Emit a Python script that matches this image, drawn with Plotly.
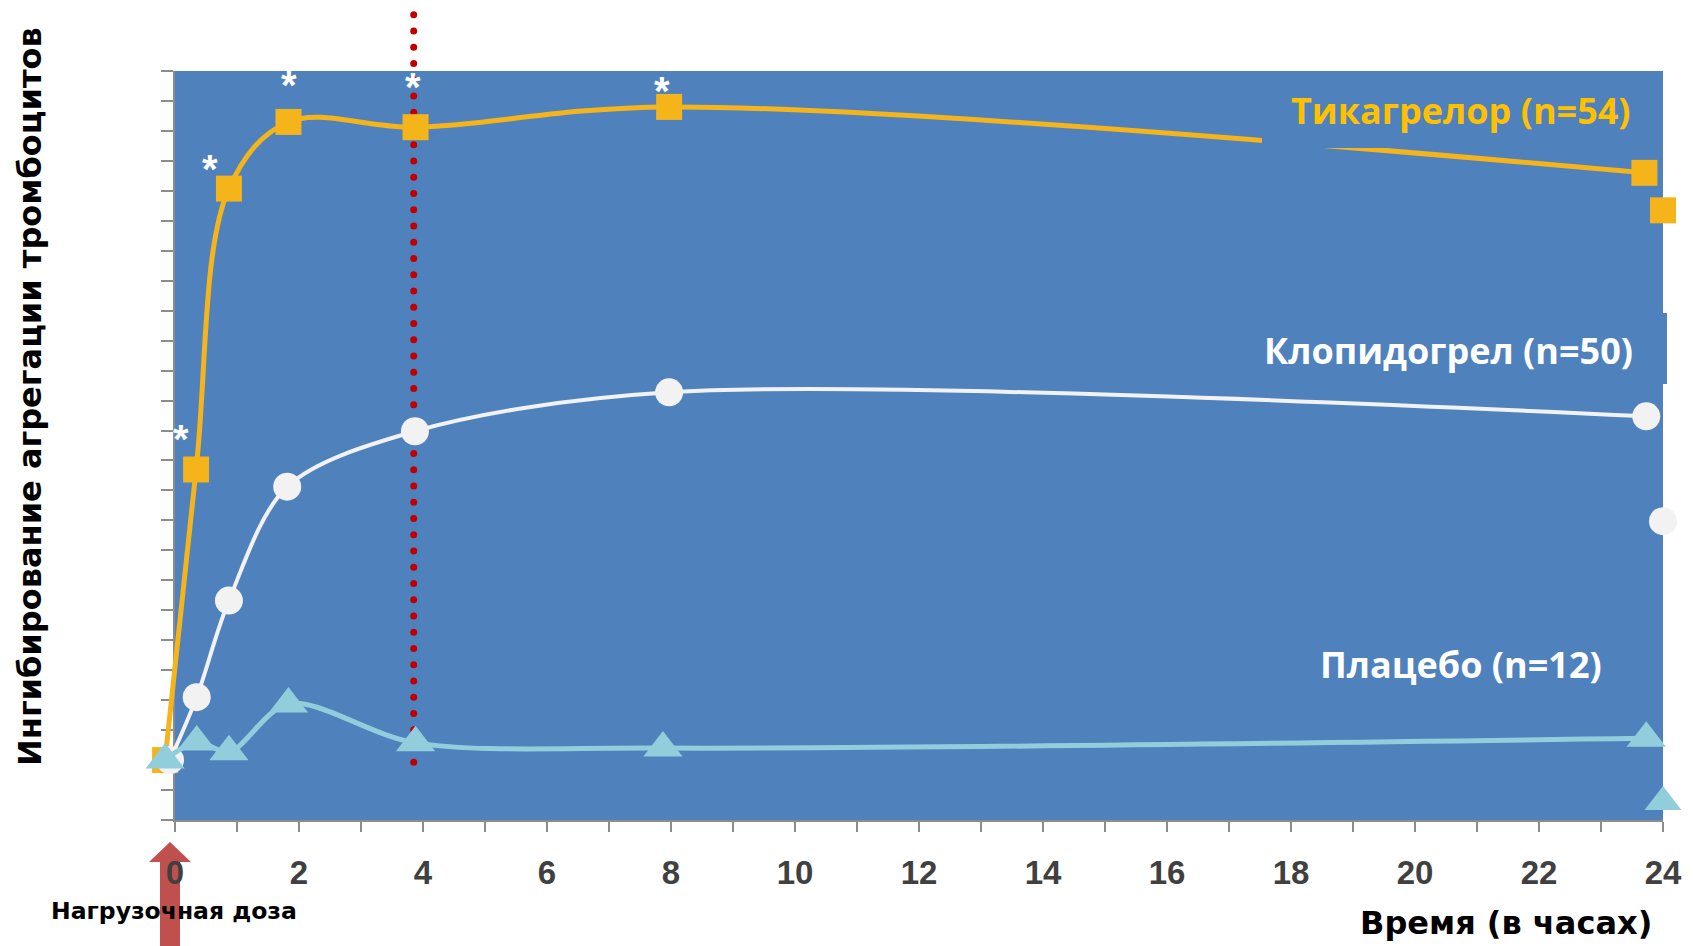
import numpy as np
import plotly.graph_objects as go

# ---- data ----
tica_x = [-0.16, 0.34, 0.87, 1.83, 3.88, 7.97, 23.70]
tica_y = [0.0, 38.8, 76.3, 85.2, 84.5, 87.2, 78.4]
clop_x = [-0.08, 0.35, 0.87, 1.81, 3.87, 7.97, 23.73]
clop_y = [0.0, 8.4, 21.3, 36.5, 43.9, 49.1, 45.9]
plac_x = [-0.16, 0.35, 0.87, 1.83, 3.88, 7.87, 23.73]
plac_y = [0.0, 2.4, 1.1, 7.5, 2.3, 1.6, 2.9]

extra_x = [24, 24, 24]
extra_y = [73.4, 31.9, -5.6]          # tica, clop, placebo at 24 h

star_x = [0.10, 0.56, 1.84, 3.84, 7.85]
star_y = [43.9, 80.0, 91.2, 90.9, 90.4]

ref_line_x = 3.85
ref_line_top = 99.5
ref_line_bottom = -0.3

x_ticks = list(range(0, 25))
x_ticklabels = [str(v) if v % 2 == 0 else "" for v in x_ticks]

labels = ["Тикагрелор (n=54)", "Клопидогрел (n=50)", "Плацебо (n=12)"]
y_title = "Ингибирование агрегации тромбоцитов"
x_title = "Время (в часах)"
dose_label = "Нагрузочная доза"

# ---- colours ----
BG = "#4F81BD"
TICA = "#F4B41A"
TICA_TXT = "#FFC000"
CLOP = "#F2F2F2"
PLAC = "#92CDDC"
RED = "#C00000"
AXIS = "#8C8C8C"

# ---- geometry (pixels) ----
W, H = 1693, 946
L, R, T, B = 100, 30, 5, 126
PW, PH = W - L - R, H - T - B
PLOT_L, PLOT_R, PLOT_T, PLOT_B = 175, 1663, 71, 820
PX_PER_H = (PLOT_R - PLOT_L) / 24.0
PX_PER_U = (PLOT_B - PLOT_T) / 100.0


def px(x):
    return (x - L) / PW


def py(y):
    return (H - B - y) / PH


# extended overlay subplot so that markers sticking out of the frame stay visible
X2_L = 144
x2_range = [-(PLOT_L - X2_L) / PX_PER_H, 24]
y2_range = [-8, -8 + (PLOT_B - T) / PX_PER_U]

fig = go.Figure()

# empty trace so that the framed subplot (axes, ticks) is drawn
fig.add_trace(go.Scatter(x=[None], y=[None], mode="markers", showlegend=False,
                         hoverinfo="skip"))

common = dict(xaxis="x2", yaxis="y2", cliponaxis=False, showlegend=False)

# red dotted reference line
dots_y = np.linspace(ref_line_bottom, ref_line_top, 47)
fig.add_trace(go.Scatter(x=[ref_line_x] * len(dots_y), y=dots_y, mode="markers",
                         marker=dict(color=RED, size=7, opacity=1, line=dict(width=0)),
                         hoverinfo="skip", **common))

fig.add_trace(go.Scatter(x=tica_x, y=tica_y, mode="lines+markers",
                         line=dict(color=TICA, width=5, shape="spline", smoothing=1.0),
                         marker=dict(symbol="square", size=26, color=TICA, opacity=1,
                                     line=dict(width=0)),
                         **common))
fig.add_trace(go.Scatter(x=clop_x, y=clop_y, mode="lines+markers",
                         line=dict(color=CLOP, width=4, shape="spline", smoothing=0.9),
                         marker=dict(symbol="circle", size=28, color=CLOP, opacity=1,
                                     line=dict(width=0)),
                         **common))
fig.add_trace(go.Scatter(x=plac_x, y=plac_y, mode="lines+markers",
                         line=dict(color=PLAC, width=5, shape="spline", smoothing=0.9),
                         marker=dict(symbol="triangle-up", size=34, color=PLAC, opacity=1,
                                     line=dict(width=0)),
                         **common))
fig.add_trace(go.Scatter(x=extra_x, y=extra_y, mode="markers",
                         marker=dict(symbol=["square", "circle", "triangle-up"],
                                     size=[26, 28, 32], color=[TICA, CLOP, PLAC],
                                     opacity=1, line=dict(width=0)),
                         **common))

shapes = [
    # plot background
    dict(type="rect", xref="paper", yref="paper", layer="below",
         x0=px(PLOT_L), x1=px(PLOT_R), y0=py(PLOT_B), y1=py(PLOT_T),
         fillcolor=BG, line=dict(width=0)),
    # label boxes (filled with the plot colour, covering the line)
    dict(type="rect", xref="paper", yref="paper", layer="above",
         x0=px(1262), x1=px(1662), y0=py(148), y1=py(76),
         fillcolor=BG, line=dict(width=0)),
    dict(type="rect", xref="paper", yref="paper", layer="above",
         x0=px(1250), x1=px(1667), y0=py(384), y1=py(313),
         fillcolor=BG, line=dict(width=0)),
    # red arrow (below the tick labels)
    dict(type="path", xref="paper", yref="paper", layer="below",
         path="M {a},{b} L {c},{d} L {e},{d} L {e},{f} L {g},{f} L {g},{d} L {h},{d} Z".format(
             a=px(170), b=py(842), c=px(149), d=py(862), e=px(160), f=py(946),
             g=px(180), h=px(191)),
         fillcolor="#C0504D", line=dict(width=0)),
]


def ann(text, x, y, size, color, family="DejaVu Sans", angle=0):
    return dict(text=text, x=px(x), y=py(y), xref="paper", yref="paper", showarrow=False,
                xanchor="center", yanchor="middle", textangle=angle,
                font=dict(family=family, size=size, color=color, weight="bold"))


annotations = [
    ann(labels[0], 1461, 110, 36, TICA_TXT, family="Open Sans"),
    ann(labels[1], 1448, 350, 36, "white", family="Open Sans"),
    ann(labels[2], 1461, 664, 36, "white", family="Open Sans"),
    ann(y_title, 30, 397, 32, "black", angle=-90),
    ann(x_title, 1506, 923, 32, "black"),
    ann(dose_label, 174, 911, 23.5, "black"),
]
# significance asterisks, positioned through the data axes
for sx, sy in zip(star_x, star_y):
    annotations.append(dict(text="*", x=sx, y=sy, xref="x2", yref="y2", showarrow=False,
                            xanchor="center", yanchor="middle", yshift=-8,
                            font=dict(family="Liberation Sans", size=40, color="white",
                                      weight="bold")))

fig.update_layout(
    width=W, height=H, autosize=False,
    margin=dict(l=L, r=R, t=T, b=B),
    paper_bgcolor="white", plot_bgcolor="rgba(0,0,0,0)",
    shapes=shapes, annotations=annotations,
    xaxis=dict(domain=[px(PLOT_L), px(PLOT_R)], range=[0, 24], anchor="y",
               tickmode="array", tickvals=x_ticks, ticktext=x_ticklabels,
               ticks="outside", ticklen=10, tickwidth=2, tickcolor=AXIS,
               showline=True, linecolor=AXIS, linewidth=2, showgrid=False, zeroline=False,
               tickfont=dict(family="Liberation Sans", size=33, color="#404040", weight="bold"),
               ticklabelstandoff=12, fixedrange=True),
    yaxis=dict(domain=[py(PLOT_B), py(PLOT_T)], range=[-8, 92], anchor="x",
               tick0=-8, dtick=4, showticklabels=False,
               ticks="outside", ticklen=12, tickwidth=2, tickcolor=AXIS,
               showline=True, linecolor=AXIS, linewidth=2, showgrid=False, zeroline=False,
               fixedrange=True),
    xaxis2=dict(domain=[px(X2_L), px(PLOT_R)], range=x2_range, anchor="y2", visible=False,
                fixedrange=True),
    yaxis2=dict(domain=[py(PLOT_B), py(T)], range=y2_range, anchor="x2", visible=False,
                fixedrange=True),
)

fig.write_html("out.html", config={"displayModeBar": False},
               post_script="document.body.style.margin='0';")
